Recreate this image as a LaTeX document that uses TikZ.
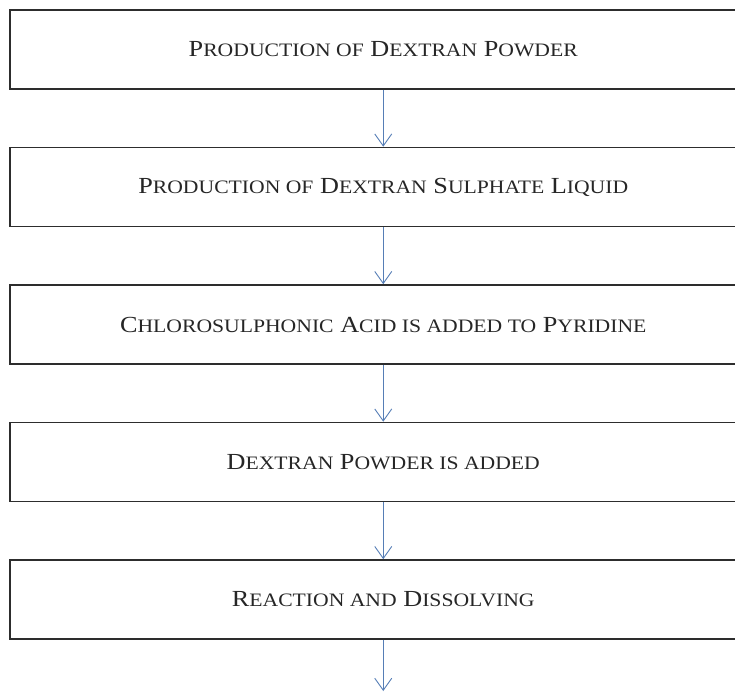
\documentclass[tikz,border=0pt]{standalone}
\usepackage{fontspec}
\setmainfont{Liberation Serif}[FakeStretch=1.14]
\usetikzlibrary{arrows.meta}

\definecolor{arrowblue}{RGB}{86,126,182}
\definecolor{boxline}{RGB}{45,45,45}
\newcommand\smc[1]{{\fontsize{19pt}{19pt}\selectfont #1}}

\begin{document}
\begin{tikzpicture}
  [x=1pt,y=1pt,
   stage/.style={rectangle,draw=boxline,line width=1.6pt,minimum width=747pt,
     minimum height=79pt,inner sep=0pt,text=black!85,
     font=\fontsize{23pt}{23pt}\selectfont},
   flow/.style={draw=arrowblue,line width=0.9pt,-{Straight Barb[length=12pt,width=17pt]}}]
  \useasboundingbox (0,0) rectangle (735,-693);
  \node[stage] (pa) at (383.25,-49.5)  {P\smc{RODUCTION OF} D\smc{EXTRAN} P\smc{OWDER}};
  \node[stage] (pb) at (383.25,-187)   {P\smc{RODUCTION OF} D\smc{EXTRAN} S\smc{ULPHATE} L\smc{IQUID}};
  \node[stage] (pc) at (383.25,-324.5) {C\smc{HLOROSULPHONIC} A\smc{CID IS ADDED TO} P\smc{YRIDINE}};
  \node[stage] (pd) at (383.25,-462)   {D\smc{EXTRAN} P\smc{OWDER IS ADDED}};
  \node[stage] (pe) at (383.25,-599.5) {R\smc{EACTION AND} D\smc{ISSOLVING}};
  \coordinate (pend) at (383.25,-691);
    \foreach \from/\to in {pa/pb,pb/pc,pc/pd,pd/pe,pe/pend}
    \draw[flow] (\from) -- (\to);
  \end{tikzpicture}
\end{document}
